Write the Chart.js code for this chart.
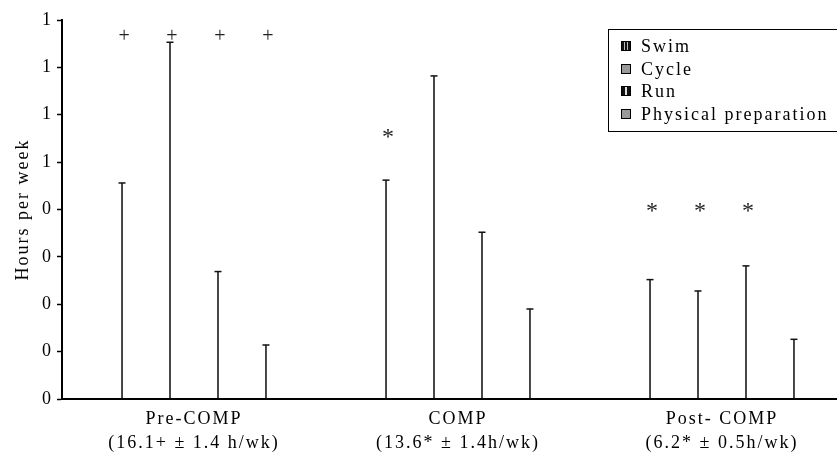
<!DOCTYPE html>
<html>
<head>
<meta charset="utf-8">
<script src="https://cdn.jsdelivr.net/npm/chart.js"></script>
<style>
body { margin: 0; background: #fff; }
#wrap { position: relative; width: 837px; height: 456px; overflow: hidden; }
#chart { position: absolute; left: 0; top: 0; }
#legend {
    position: absolute; left: 608px; top: 29px; width: 260px; height: 103px;
    border: 1.5px solid #000; box-sizing: border-box; padding-top: 5px;
    font: 18px "Liberation Serif"; letter-spacing: 2px; color: #000;
}
#legend div { height: 22.5px; line-height: 22.5px; white-space: nowrap; }
#legend span { display: inline-block; width: 8px; height: 8px; border: 1px solid #000; margin: 0 10px 0 12px; vertical-align: 1px; }
</style>
</head>
<body>
<div id="wrap">
    <canvas id="chart" width="860" height="456"></canvas>
    <div id="legend"></div>
</div>
<script>
const categories = [
    ['Pre-COMP', '(16.1+ \u00b1 1.4 h/wk)'],
    ['COMP', '(13.6* \u00b1 1.4h/wk)'],
    ['Post- COMP', '(6.2* \u00b1 0.5h/wk)']
];
const seriesNames = ['Swim', 'Cycle', 'Run', 'Physical preparation'];
const swim = [4.56, 4.62, 2.52];
const cycle = [7.53, 6.82, 2.28];
const run = [2.69, 3.52, 2.81];
const physPrep = [1.14, 1.90, 1.26];
const yTickLabels = ['0', '0', '0', '0', '0', '1', '1', '1', '1'];

// significance marks: symbol per category, which series get one, at what level
const markSymbols = ['+', '*', '*'];
const markSeries = [[0, 1, 2, 3], [0], [0, 1, 2]];
const markLevels = [7.7, 5.6, 4.05];

const swatches = [
    'repeating-linear-gradient(90deg,#111 0 2px,#bbb 2px 3px)',
    '#999',
    'linear-gradient(90deg,#111 0 3px,#ddd 3px 5px,#111 5px)',
    '#999'
];
$legend = document.getElementById('legend');
seriesNames.forEach(function (name, i) {
    $legend.innerHTML += '<div><span style="background:' + swatches[i] + '"></span>' + name + '</div>';
});

const font = 'Liberation Serif';

const spacingPlugin = {
    id: 'spacing',
    beforeLayout: function (chart) { chart.ctx.letterSpacing = '2px'; },
    beforeDraw: function (chart) { chart.ctx.letterSpacing = '2px'; }
};

const marksPlugin = {
    id: 'marks',
    afterDatasetsDraw: function (chart) {
        const ctx = chart.ctx;
        ctx.save();
        // caps on top of each bar
        ctx.strokeStyle = '#111';
        ctx.lineWidth = 1.5;
        chart.data.datasets.forEach(function (ds, i) {
            chart.getDatasetMeta(i).data.forEach(function (el) {
                ctx.beginPath();
                ctx.moveTo(el.x - 3.5, el.y);
                ctx.lineTo(el.x + 3.5, el.y);
                ctx.stroke();
            });
        });
        // + and * labels, centred on their ink box
        ctx.fillStyle = '#222';
        ctx.letterSpacing = '0px';
        ctx.textAlign = 'center';
        ctx.textBaseline = 'alphabetic';
        markSeries.forEach(function (list, c) {
            const sym = markSymbols[c];
            ctx.font = (sym === '*' ? 24 : 20) + 'px "' + font + '"';
            const m = ctx.measureText(sym);
            const y = chart.scales.y.getPixelForValue(markLevels[c]) +
                (m.actualBoundingBoxAscent - m.actualBoundingBoxDescent) / 2;
            list.forEach(function (s) {
                const el = chart.getDatasetMeta(s).data[c];
                ctx.fillText(sym, el.x + 2, y);
            });
        });
        ctx.restore();
    }
};

const dataSets = [swim, cycle, run, physPrep].map(function (values, i) {
    return {
        label: seriesNames[i],
        data: values,
        backgroundColor: '#111',
        borderWidth: 0,
        categoryPercentage: 0.727,
        barPercentage: 0.032
    };
});

const myChart = new Chart(document.getElementById('chart'), {
    type: 'bar',
    data: {
        labels: categories,
        datasets: dataSets
    },
    plugins: [spacingPlugin, marksPlugin],
    options: {
        responsive: false,
        animation: false,
        layout: { padding: { left: 0, top: 20, right: 6, bottom: 0 } },
        scales: {
            x: {
                grid: { display: false, drawTicks: false },
                border: { display: true, color: '#000', width: 2 },
                ticks: {
                    color: '#000',
                    font: { family: font, size: 18, lineHeight: 1.33 },
                    padding: 8,
                    maxRotation: 0,
                    autoSkip: false
                },
                afterFit: function (scale) { scale.height = 57; }
            },
            y: {
                min: 0,
                max: 8,
                grid: { drawOnChartArea: false, drawTicks: true, tickLength: 5, color: '#000', tickWidth: 1.5 },
                border: { display: true, color: '#000', width: 2 },
                ticks: {
                    stepSize: 1,
                    color: '#000',
                    padding: 4,
                    font: { family: font, size: 18 },
                    callback: function (value) { return yTickLabels[value]; }
                },
                title: {
                    display: true,
                    text: 'Hours per week',
                    color: '#000',
                    font: { family: font, size: 18 },
                    padding: { top: 12, bottom: 0 }
                },
                afterFit: function (scale) { scale.width = 62; }
            }
        },
        plugins: {
            legend: { display: false },
            tooltip: { enabled: false }
        }
    }
});
</script>
</body>
</html>
